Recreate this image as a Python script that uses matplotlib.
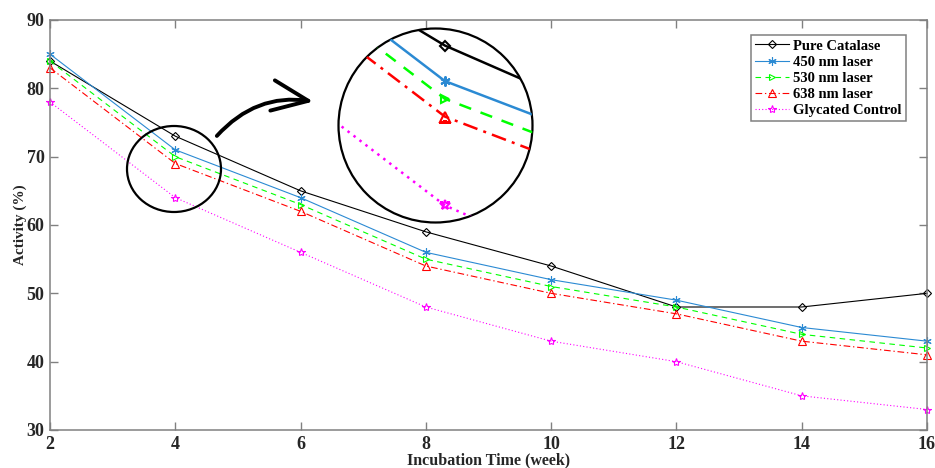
import matplotlib
matplotlib.use('Agg')
import numpy as np
import matplotlib.pyplot as plt
from matplotlib.patches import Ellipse, Circle, FancyArrowPatch

weeks = [2, 4, 6, 8, 10, 12, 14, 16]
pure_catalase = [84, 73, 65, 59, 54, 48, 48, 50]
laser_450 = [85, 71, 64, 56, 52, 49, 45, 43]
laser_530 = [84, 70, 63, 55, 51, 48, 44, 42]
laser_638 = [83, 69, 62, 54, 50, 47, 43, 41]
glycated = [78, 64, 56, 48, 43, 40, 35, 33]

labels = ['Pure Catalase', '450 nm laser', '530 nm laser', '638 nm laser', 'Glycated Control']
y_ticks = [30, 40, 50, 60, 70, 80, 90]

W, H = 935, 468
plt.rcParams['font.family'] = ['Liberation Serif', 'DejaVu Serif']
plt.rcParams['font.weight'] = 'bold'

fig = plt.figure(figsize=(W / 100, H / 100), dpi=100)


def px(x0, y0, w, h):
    # pixel box (top-left origin) -> figure fraction rect
    return [x0 / W, 1 - (y0 + h) / H, w / W, h / H]


ax = fig.add_axes(px(50, 20, 877, 410))

styles = [
    dict(color='black', linestyle='-', marker='D', markersize=4.5, mfc='none'),
    dict(color='#2b8ad3', linestyle='-', marker=(6, 2, 0), markersize=6),
    dict(color='#00ff00', linestyle=(0, (5, 4)), marker='>', markersize=5, mfc='none'),
    dict(color='#ff0000', linestyle=(0, (6, 2.5, 1.2, 2.5)), marker='^', markersize=6, mfc='none'),
    dict(color='#ff00ff', linestyle=(0, (1, 2)), marker='*', markersize=6, mfc='none'),
]
series = [pure_catalase, laser_450, laser_530, laser_638, glycated]

for vals, st, lab in zip(series, styles, labels):
    ax.plot(weeks, vals, linewidth=0.8, markeredgewidth=0.8, label=lab, clip_on=False, **st)

ax.set_xlim(2, 16)
ax.set_ylim(30, 90)
ax.set_xticks(weeks)
ax.set_yticks(y_ticks)
ax.tick_params(direction='in', top=True, right=True, length=6, width=1, color='#808080',
               labelsize=13, labelcolor='#262626', pad=4)
for lbl in ax.get_xticklabels() + ax.get_yticklabels():
    lbl.set_fontweight('bold')
for s in ax.spines.values():
    s.set_color('#808080')
    s.set_linewidth(1.1)
ax.set_xlabel('Incubation Time (week)', fontsize=11.5, fontweight='bold', color='#262626', labelpad=0)
ax.set_ylabel('Activity (%)', fontsize=11, fontweight='bold', color='#262626', labelpad=0)

leg = ax.legend(loc='upper right', bbox_to_anchor=(906 / W, 1 - 35 / H),
                bbox_transform=fig.transFigure, fontsize=10.5, handlelength=2.3,
                handletextpad=0.3, borderpad=0.3, labelspacing=0.2,
                fancybox=False, framealpha=1, edgecolor='#808080', borderaxespad=0)
leg.get_frame().set_linewidth(1.1)
for t in leg.get_texts():
    t.set_fontweight('bold')

# circle around week 4
fig.patches.append(Ellipse((174 / W, 1 - 169 / H), 94 / W, 86 / H, transform=fig.transFigure,
                           fill=False, edgecolor='black', linewidth=1.6))

# curved arrow to the magnified view
arrow = FancyArrowPatch((215 / W, 1 - 138 / H), (316 / W, 1 - 102 / H),
                        transform=fig.transFigure, connectionstyle='arc3,rad=-0.28',
                        arrowstyle='->,head_length=1.3,head_width=0.55', mutation_scale=20,
                        color='black', linewidth=2.8, capstyle='round', joinstyle='round')
fig.patches.append(arrow)

# magnified view of week 4
cx, cy, r = 435.5, 125.5, 97
ax_in = fig.add_axes(px(cx - r, cy - r, 2 * r, 2 * r))
ax_in.set_xlim(3.346, 4.538)
ax_in.set_ylim(63.04, 73.96)
ax_in.axis('off')
clip = Circle((0.5, 0.5), 0.5, transform=ax_in.transAxes)
for vals, st in zip(series, styles):
    st2 = dict(st)
    st2['markersize'] = st['markersize'] * 1.2
    line, = ax_in.plot(weeks, vals, linewidth=1.8, markeredgewidth=1.5, **st2)
    line.set_clip_path(clip)
ax_in.add_patch(Circle((0.5, 0.5), 0.5, transform=ax_in.transAxes, fill=False,
                       edgecolor='black', linewidth=1.6, clip_on=False))

fig.savefig('out.png', dpi=100)
